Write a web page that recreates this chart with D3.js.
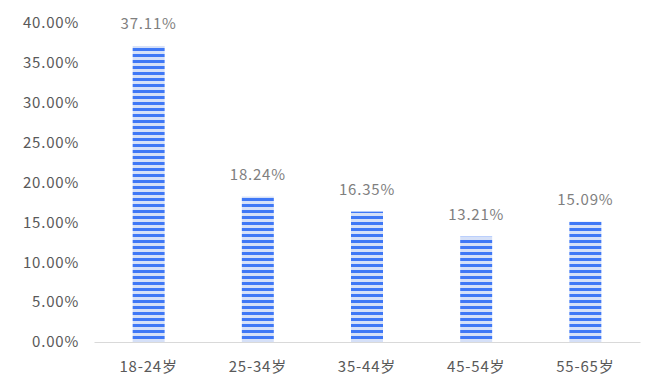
<!DOCTYPE html>
<html><head><meta charset="utf-8">
<script src="https://cdn.jsdelivr.net/npm/d3@7"></script>
<style>body{margin:0;background:#fff;} text{font-family:"Noto Sans CJK SC","Noto Sans",sans-serif;letter-spacing:0.8px;}</style>
</head><body>
<svg id="c" width="661" height="384"></svg>
<script>
const categories = ["18-24岁","25-34岁","35-44岁","45-54岁","55-65岁"];
const values = [37.11, 18.24, 16.35, 13.21, 15.09];
const yTicks = [0,5,10,15,20,25,30,35,40];

const svg = d3.select("#c");
const margin = {left:94, right:21, top:23, bottom:42};
const W = 661, H = 384;
const x = d3.scaleBand().domain(categories).range([margin.left, W-margin.right]).paddingInner(0.707).paddingOuter(0.354);
const y = d3.scaleLinear().domain([0,40]).range([H-margin.bottom, margin.top]);

const defs = svg.append("defs");
const pat = defs.append("pattern").attr("id","stripes").attr("patternUnits","userSpaceOnUse")
  .attr("width",10).attr("height",6).attr("y", y(0));
pat.append("rect").attr("width",10).attr("height",6).attr("fill","#d5e0f8");
pat.append("rect").attr("width",10).attr("height",3).attr("y",0).attr("fill","#3f78f6");

// y axis labels
const yAxis = d3.axisLeft(y).tickValues(yTicks).tickFormat(d=>d.toFixed(2)+"%").tickSize(0).tickPadding(0);
const gy = svg.append("g").attr("transform",`translate(79,0)`).call(yAxis);
gy.select(".domain").remove();
gy.selectAll("text").attr("fill","#595959").style("font-size","15px");

// bars
svg.selectAll("rect.bar").data(values).join("rect").attr("class","bar")
  .attr("x",(d,i)=>x(categories[i])).attr("width",x.bandwidth())
  .attr("y",d=>y(d)).attr("height",d=>y(0)-y(d)).attr("fill","url(#stripes)");

// x axis
const xAxis = d3.axisBottom(x).tickSize(0).tickPadding(19);
const gx = svg.append("g").attr("transform",`translate(0,${y(0)})`).call(xAxis);
gx.select(".domain").attr("stroke","#d9d9d9").attr("stroke-width",1);
gx.selectAll("text").attr("fill","#595959").style("font-size","15px");

// data labels
svg.selectAll("text.lbl").data(values).join("text").attr("class","lbl")
  .attr("x",(d,i)=>x(categories[i])+x.bandwidth()/2).attr("y",d=>y(d)-17)
  .attr("text-anchor","middle").attr("fill","#7f7f7f").style("font-size","15px")
  .text(d=>d.toFixed(2)+"%");
</script>
</body></html>
